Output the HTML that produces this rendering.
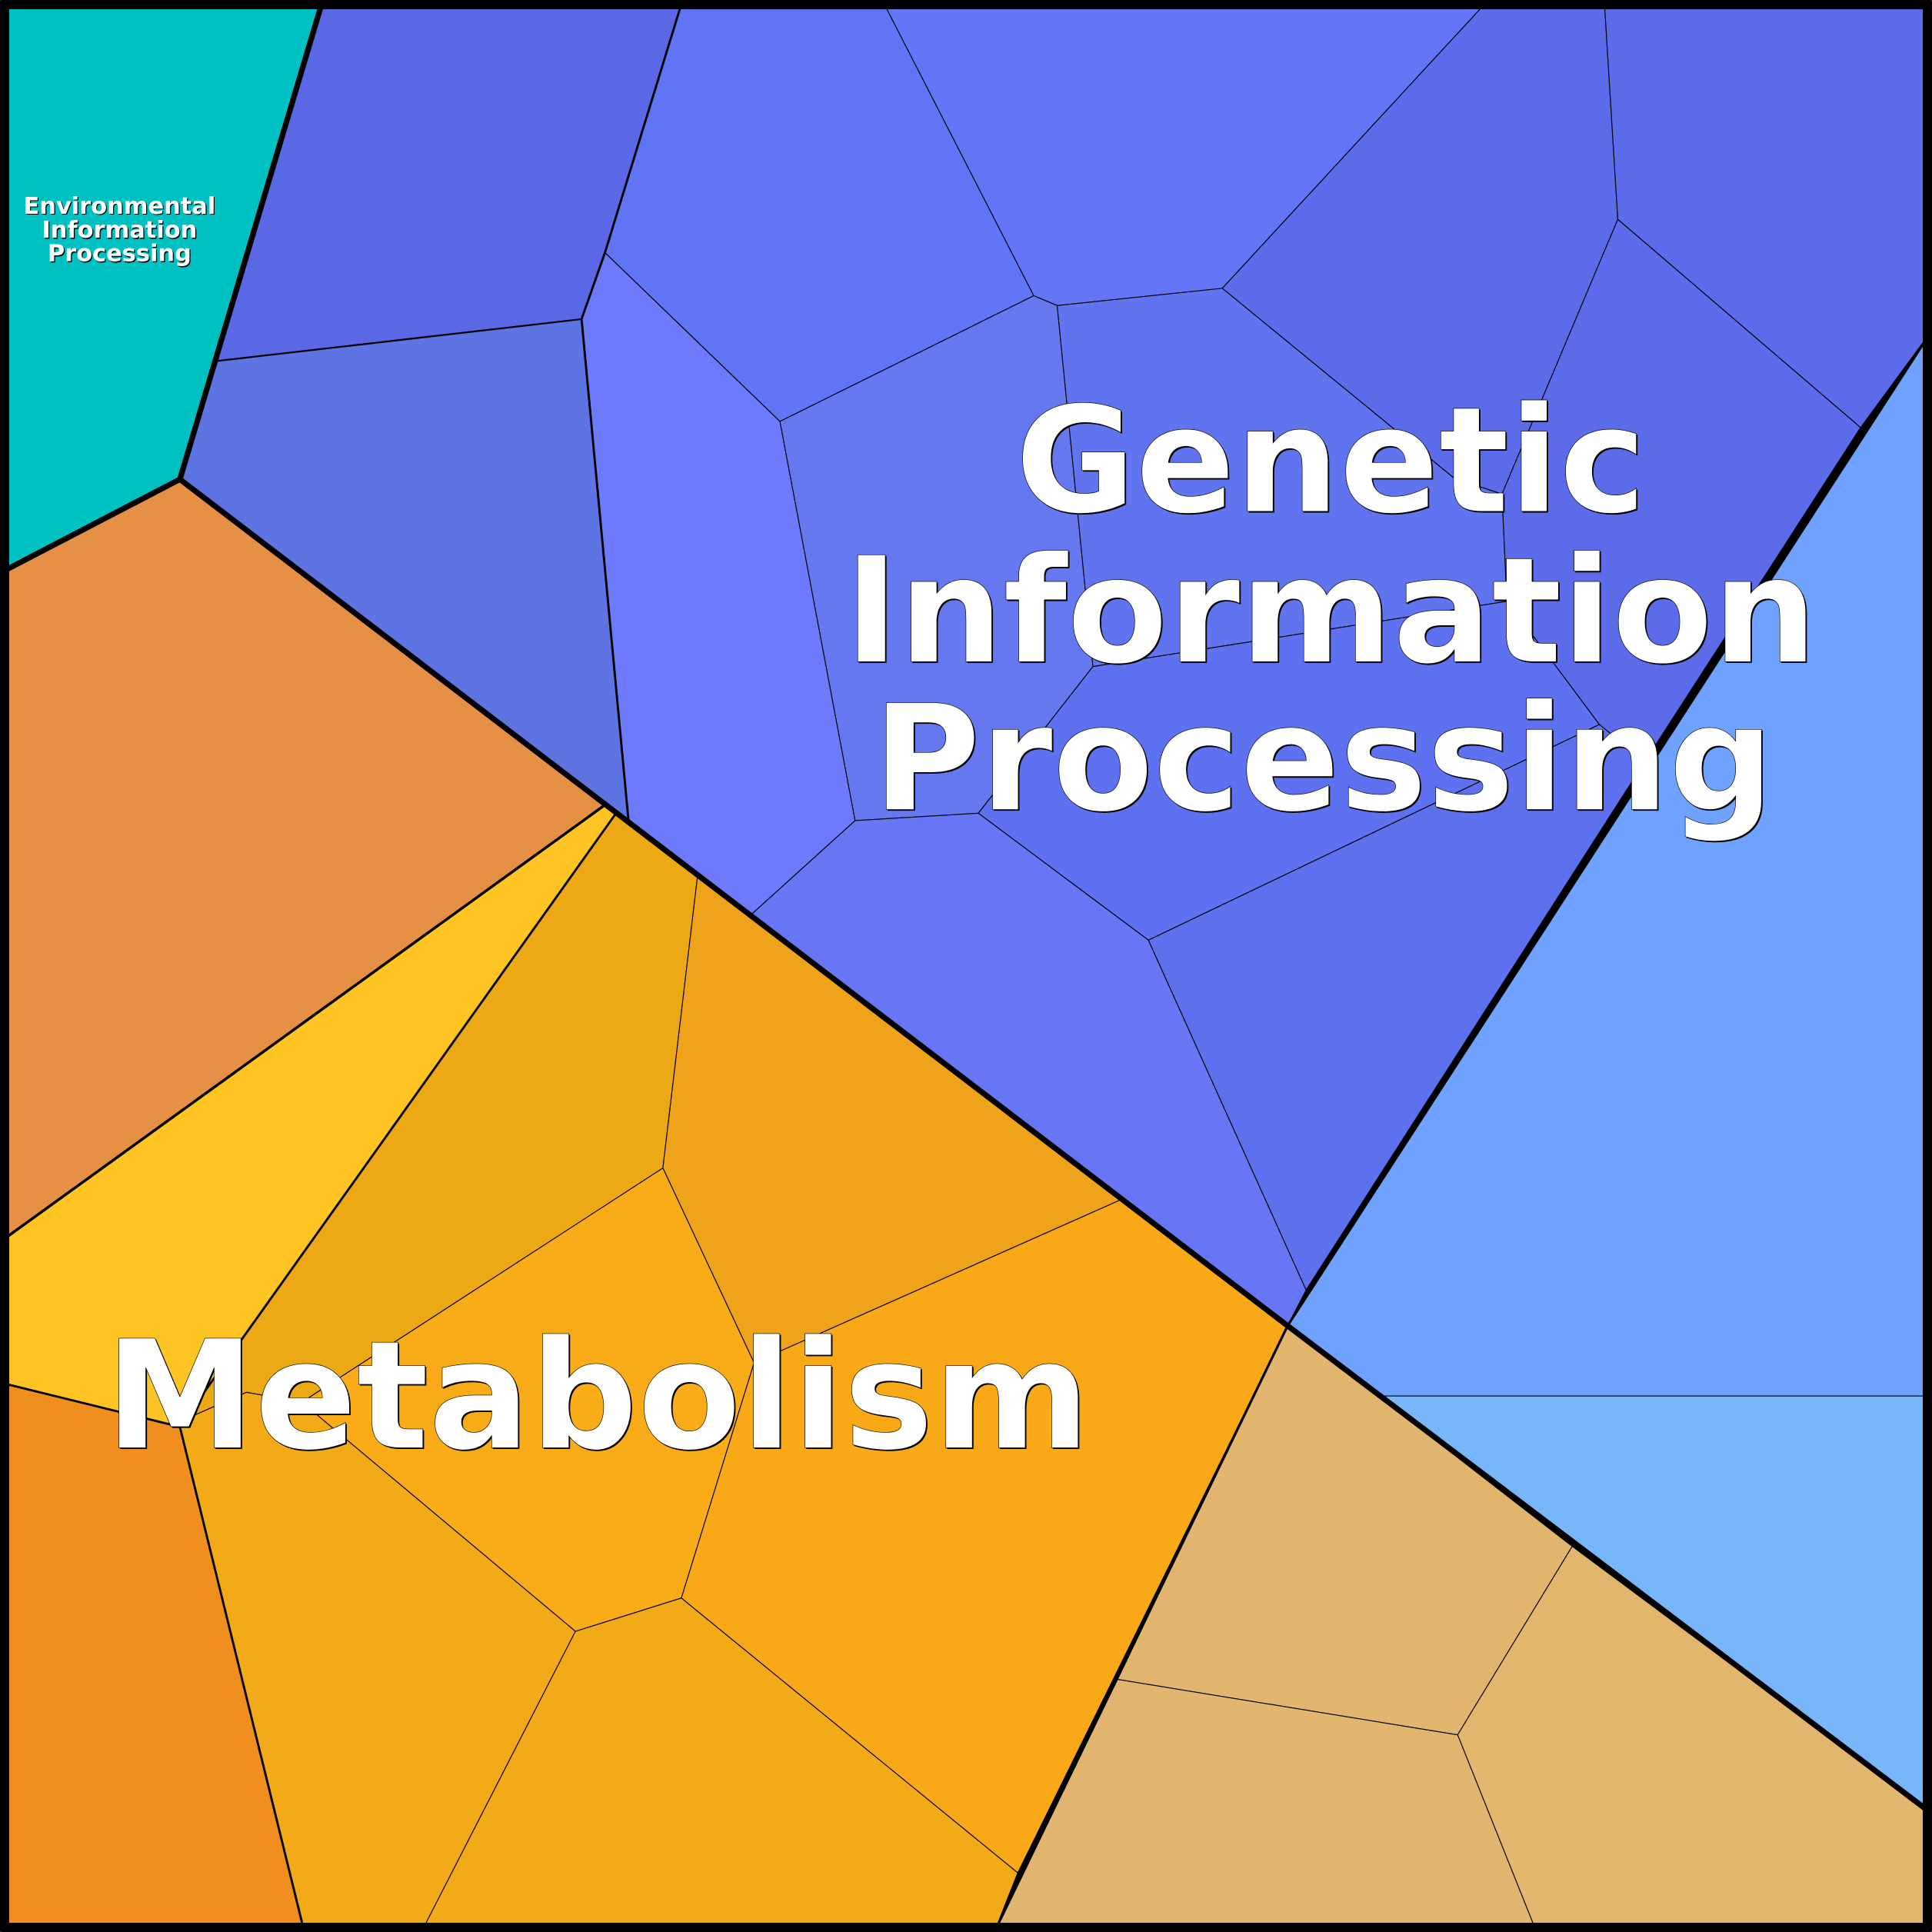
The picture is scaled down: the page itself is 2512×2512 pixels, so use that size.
<!DOCTYPE html>
<html><head><meta charset="utf-8"><style>html,body{margin:0;padding:0;background:#000}svg{display:block}</style></head>
<body>
<svg width="2512" height="2512" viewBox="0 0 1568 1568" xmlns="http://www.w3.org/2000/svg">
<g stroke="#000" stroke-width="0.7" stroke-linejoin="round">
<polygon fill="#00C1C1" points="0,0 262,0 146,389 0,465"/>
<polygon fill="#5B68E5" points="262,0 554,0 491,205 472,259 176,293"/>
<polygon fill="#5D74E2" points="176,293 472,259 510,665 146,389"/>
<polygon fill="#6D7AFC" points="491,205 633,342 694,666 610,742 510,665 472,259"/>
<polygon fill="#6075F5" points="554,0 716,0 839,240 633,342 491,205"/>
<polygon fill="#6276F5" points="716,0 1208,0 992,234 858,248 839,240"/>
<polygon fill="#5B6BEA" points="1208,0 1302,0 1313,178 1219,401 1180,388 992,234"/>
<polygon fill="#5B6BEA" points="1302,0 1568,0 1568,268 1510,347 1313,178"/>
<polygon fill="#6578F0" points="633,342 839,240 858,248 887,541 794,660 694,666"/>
<polygon fill="#5F74EE" points="858,248 992,234 1180,388 1219,401 1223,488 887,541"/>
<polygon fill="#5B6BEA" points="1313,178 1510,347 1335,618 1298,588 1260,537 1223,488 1219,401"/>
<polygon fill="#5E71F0" points="887,541 1223,488 1260,537 1298,588 932,763 794,660"/>
<polygon fill="#5D70EE" points="932,763 1298,588 1335,618 1060,1047"/>
<polygon fill="#6676F5" points="610,742 694,666 794,660 932,763 1060,1047 1045,1076"/>
<polygon fill="#6FA2FF" points="1568,268 1568,1133 1122,1133 1045,1076"/>
<polygon fill="#77B6F8" points="1122,1133 1568,1133 1568,1472"/>
<polygon fill="#E1B56D" points="1045,1076 1276,1255 1183,1408 907,1363"/>
<polygon fill="#E2B66C" points="1276,1255 1568,1472 1568,1568 1247,1568 1183,1408"/>
<polygon fill="#E1B56F" points="907,1363 1183,1408 1247,1568 807,1568"/>
<polygon fill="#E69045" points="0,465 146,389 490,654 0,1008"/>
<polygon fill="#FEC424" points="0,1008 490,654 500,660 150,1152 146,1158 0,1122"/>
<polygon fill="#ECA815" points="500,660 566,712 538,948 245,1138 200,1130 150,1152"/>
<polygon fill="#EEA31B" points="566,712 909,974 612,1106 538,948"/>
<polygon fill="#F9AC18" points="538,948 612,1106 553,1297 467,1324 245,1138"/>
<polygon fill="#F9A818" points="909,974 1045,1076 826,1520 553,1297 612,1106"/>
<polygon fill="#F08E20" points="0,1122 146,1158 247,1568 0,1568"/>
<polygon fill="#F3AA19" points="146,1158 150,1152 200,1130 245,1138 467,1324 342,1568 247,1568"/>
<polygon fill="#F3AA19" points="467,1324 553,1297 826,1520 807,1568 342,1568"/>
</g>
<g fill="none" stroke="#000" stroke-linejoin="round">
<polyline stroke-width="1.8" points="554,0 491,205 472,259 510,665"/>
<polyline stroke-width="1.4" points="176,293 472,259"/>
<polyline stroke-width="2" points="1568,268 1045,1076 807,1568"/>
<polyline stroke-width="2.2" points="0,1008 490,654"/>
<polyline stroke-width="1.8" points="500,660 150,1152"/>
<polyline stroke-width="1.8" points="0,1122 146,1158 247,1568"/>
<polyline stroke-width="4.5" points="262,0 146,389 0,465"/>
<polyline stroke-width="4.5" points="146,389 1045,1076 1568,1472"/>
<rect x="3.5" y="3.5" width="1561" height="1561" stroke-width="8"/>
</g>
<g font-family="'DejaVu Sans','Liberation Sans',sans-serif" font-weight="bold" text-anchor="middle">
<g fill="#000" transform="translate(1,1)">
<text x="1080" y="415" font-size="119">Genetic</text>
<text x="1080" y="537" font-size="119">Information</text>
<text x="1074" y="657" font-size="119">Processing</text>
<text x="485" y="1175" font-size="122">Metabolism</text>
</g>
<g fill="#fff" stroke="#000" stroke-width="0.4">
<text x="1080" y="415" font-size="119">Genetic</text>
<text x="1080" y="537" font-size="119">Information</text>
<text x="1074" y="657" font-size="119">Processing</text>
<text x="485" y="1175" font-size="122">Metabolism</text>
</g>
<g fill="#000" transform="translate(0.8,0.8)" font-size="19">
<text x="97" y="173.5">Environmental</text>
<text x="97" y="193">Information</text>
<text x="97" y="212">Processing</text>
</g>
<g fill="#fff" font-size="19">
<text x="97" y="173.5">Environmental</text>
<text x="97" y="193">Information</text>
<text x="97" y="212">Processing</text>
</g>
</g>
</svg>
</body></html>
